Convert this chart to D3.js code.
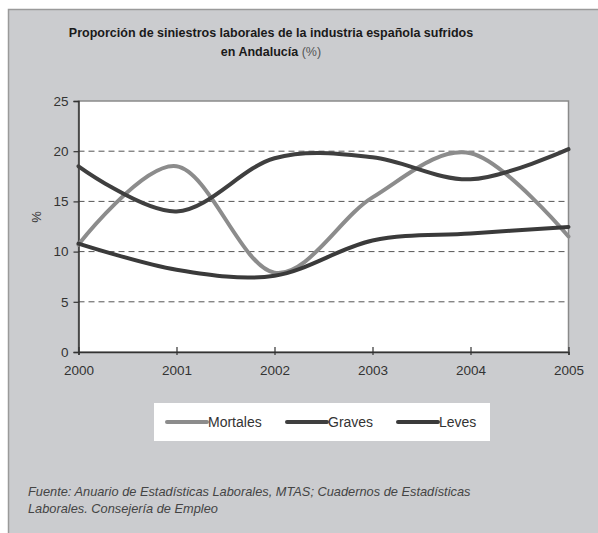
<!DOCTYPE html>
<html>
<head>
<meta charset="utf-8">
<script src="https://cdn.jsdelivr.net/npm/d3@7"></script>
<style>
  body { margin: 0; background: #fff; }
  svg { display: block; font-family: "Liberation Sans", Arial, sans-serif; }
</style>
</head>
<body>
<div id="chart"></div>
<script>
// Data
const years = [2000, 2001, 2002, 2003, 2004, 2005];
const mortales = [10.7, 18.5, 7.9, 15.4, 19.8, 11.5];
const graves = [18.5, 14.0, 19.3, 19.4, 17.2, 20.2];
const leves = [10.8, 8.2, 7.6, 11.1, 11.8, 12.45];
const seriesNames = ["Mortales", "Graves", "Leves"];
const yTicks = [0, 5, 10, 15, 20, 25];

const WIDTH = 598;
const HEIGHT = 533;

const svg = d3.select("#chart")
    .append("svg")
    .attr("width", WIDTH)
    .attr("height", HEIGHT);

// grey panel
svg.append("rect")
    .attr("x", 8.5)
    .attr("y", 9.5)
    .attr("width", WIDTH)
    .attr("height", HEIGHT)
    .attr("fill", "#cbcccf")
    .attr("stroke", "#9a9a9a")
    .attr("stroke-width", 1.5);

// title
const title = svg.append("text")
    .attr("text-anchor", "middle")
    .attr("font-size", 12.5)
    .attr("fill", "#1a1a1a");
title.append("tspan")
    .attr("x", 271).attr("y", 37)
    .attr("font-weight", "bold")
    .text("Proporción de siniestros laborales de la industria española sufridos");
const t2 = title.append("tspan").attr("x", 271).attr("y", 56);
t2.append("tspan").attr("font-weight", "bold").text("en Andalucía ");
t2.append("tspan").attr("fill", "#555").text("(%)");

// scales
const x = d3.scaleLinear().domain([2000, 2005]).range([78.5, 568.5]);
const y = d3.scaleLinear().domain([0, 25]).range([352, 101]);

// plot area
svg.append("rect")
    .attr("x", x(2000))
    .attr("y", y(25))
    .attr("width", x(2005) - x(2000))
    .attr("height", y(0) - y(25))
    .attr("fill", "#fff")
    .attr("stroke", "#8a8a8a")
    .attr("stroke-width", 1.5);

// dashed gridlines
svg.selectAll(".grid")
    .data(yTicks.filter(d => d > 0 && d < 25))
    .enter()
    .append("line")
    .attr("x1", x(2000))
    .attr("x2", x(2005))
    .attr("y1", d => y(d))
    .attr("y2", d => y(d))
    .attr("stroke", "#555")
    .attr("stroke-width", 1)
    .attr("stroke-dasharray", "6,4");

// axes
const yAxis = svg.append("g")
    .attr("transform", `translate(${x(2000)},0)`)
    .call(d3.axisLeft(y).tickValues(yTicks).tickSize(5).tickPadding(5));

const xAxis = svg.append("g")
    .attr("transform", `translate(0,${y(0)})`)
    .call(d3.axisBottom(x).tickValues(years).tickFormat(d3.format("d")).tickSize(3).tickPadding(10));

// ticks crossing the axis line
xAxis.selectAll(".tick line").attr("y1", -5);

[yAxis, xAxis].forEach(g => {
    g.select(".domain").attr("stroke", "#333").attr("stroke-width", 1.5);
    g.selectAll(".tick line").attr("stroke", "#333").attr("stroke-width", 1.2);
    g.selectAll("text")
        .attr("font-size", 13.5)
        .attr("fill", "#333")
        .attr("font-family", "'Liberation Sans', Arial, sans-serif");
});

svg.append("text")
    .attr("transform", `translate(41,217) rotate(-90)`)
    .attr("text-anchor", "middle")
    .attr("font-size", 13)
    .attr("fill", "#333")
    .text("%");

// lines
const lineColors = ["#8c8c8c", "#3f3f3f", "#3a3a3a"];
const allSeries = [mortales, graves, leves];

const line = d3.line()
    .x((d, i) => x(years[i]))
    .y(d => y(d))
    .curve(d3.curveCardinal.tension(0));

svg.selectAll(".series")
    .data(allSeries)
    .enter()
    .append("path")
    .attr("class", "series")
    .attr("d", d => line(d))
    .attr("fill", "none")
    .attr("stroke", (d, i) => lineColors[i])
    .attr("stroke-width", 4)
    .attr("stroke-linecap", "round");

// legend
svg.append("rect")
    .attr("x", 154)
    .attr("y", 403)
    .attr("width", 336)
    .attr("height", 38)
    .attr("fill", "#fff");

const legendX = [167, 287, 398];
const legend = svg.selectAll(".legend")
    .data(seriesNames)
    .enter()
    .append("g")
    .attr("transform", (d, i) => `translate(${legendX[i]},422)`);

legend.append("line")
    .attr("x1", 0)
    .attr("x2", 40)
    .attr("stroke", (d, i) => lineColors[i])
    .attr("stroke-width", 4)
    .attr("stroke-linecap", "round");

legend.append("text")
    .attr("x", 41)
    .attr("dy", "0.35em")
    .attr("font-size", 14)
    .attr("fill", "#333")
    .text(d => d);

// source note
const note = svg.append("text")
    .attr("font-size", 12.8)
    .attr("font-style", "italic")
    .attr("fill", "#444");
note.append("tspan").attr("x", 28).attr("y", 496)
    .text("Fuente: Anuario de Estadísticas Laborales, MTAS; Cuadernos de Estadísticas");
note.append("tspan").attr("x", 28).attr("y", 513)
    .text("Laborales. Consejería de Empleo");
</script>
</body>
</html>
